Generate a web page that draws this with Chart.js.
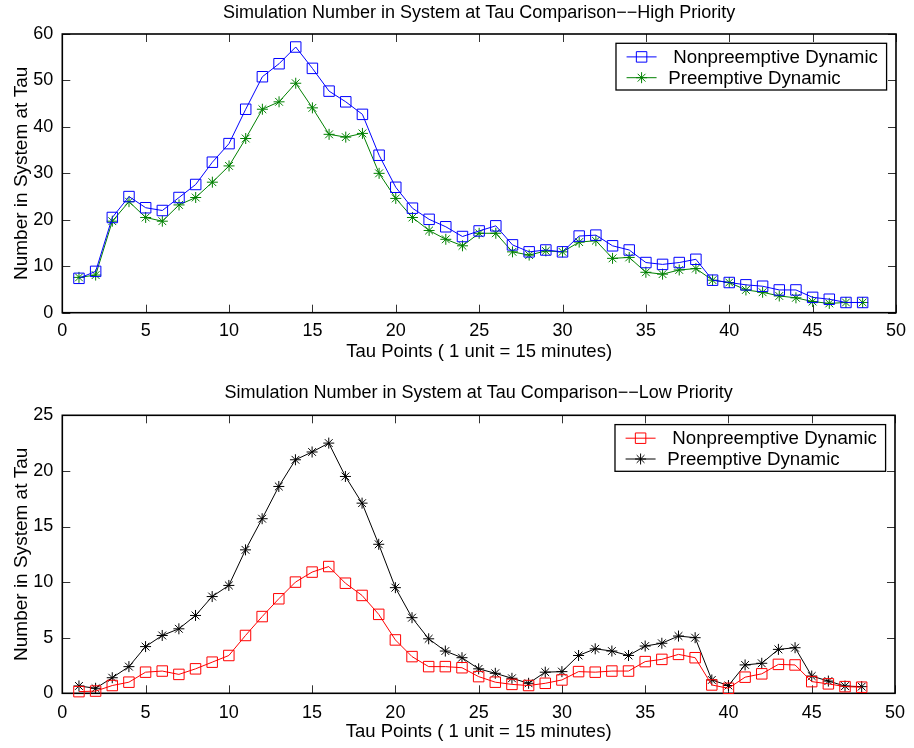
<!DOCTYPE html>
<html>
<head>
<meta charset="utf-8">
<script src="https://cdn.jsdelivr.net/npm/chart.js@4.4.1/dist/chart.umd.min.js"></script>
<style>
html, body { margin: 0; padding: 0; background: #ffffff; }
#wrap { position: relative; width: 914px; height: 748px; background: #ffffff; }
#wrap canvas { position: absolute; left: 0; }
</style>
</head>
<body>
<div id="wrap">
  <canvas id="chartHigh" width="914" height="374" style="top:0px"></canvas>
  <canvas id="chartLow" width="914" height="374" style="top:374px"></canvas>
</div>
<script>
// ---------------- DATA ----------------
const tauPoints = [1, 2, 3, 4, 5, 6, 7, 8, 9, 10, 11, 12, 13, 14, 15, 16, 17, 18, 19, 20, 21, 22, 23, 24,
                   25, 26, 27, 28, 29, 30, 31, 32, 33, 34, 35, 36, 37, 38, 39, 40, 41, 42, 43, 44, 45, 46, 47, 48];

const seriesLabels = ['Nonpreemptive Dynamic', 'Preemptive Dynamic'];

const highNonpreemptive = [7.4, 8.9, 20.5, 25.0, 22.6, 22.0, 24.8, 27.6, 32.4, 36.4, 43.8, 50.8,
                           53.6, 57.2, 52.6, 47.7, 45.4, 42.7, 33.9, 27.0, 22.5, 20.1, 18.5, 16.4,
                           17.6, 18.7, 14.6, 13.1, 13.5, 13.1, 16.5, 16.7, 14.4, 13.5, 10.8, 10.4,
                           10.8, 11.5, 7.0, 6.5, 6.0, 5.7, 4.9, 4.9, 3.3, 2.9, 2.2, 2.2];
const highPreemptive = [7.6, 8.1, 19.7, 23.9, 20.5, 19.7, 23.2, 24.8, 28.1, 31.6, 37.5, 43.8,
                        45.4, 49.4, 44.1, 38.4, 37.8, 38.6, 30.0, 24.6, 20.5, 17.7, 15.8, 14.4,
                        17.1, 17.1, 13.1, 12.4, 13.3, 13.1, 15.2, 15.5, 11.7, 11.9, 8.7, 8.3,
                        9.2, 9.5, 7.0, 6.5, 4.9, 4.4, 3.6, 3.2, 2.4, 2.0, 2.2, 2.2];

const lowNonpreemptive = [0.15, 0.2, 0.7, 1.0, 1.9, 2.0, 1.7, 2.2, 2.8, 3.4, 5.2, 6.9,
                          8.5, 10.0, 10.9, 11.4, 9.9, 8.8, 7.1, 4.8, 3.3, 2.4, 2.4, 2.3,
                          1.5, 1.0, 0.8, 0.7, 0.9, 1.2, 1.95, 1.9, 2.0, 2.0, 2.85, 3.05,
                          3.5, 3.2, 0.75, 0.45, 1.45, 1.75, 2.6, 2.55, 1.05, 0.85, 0.6, 0.55];
const lowPreemptive = [0.66, 0.45, 1.4, 2.4, 4.2, 5.2, 5.8, 7.0, 8.7, 9.7, 12.9, 15.7,
                       18.6, 21.0, 21.7, 22.5, 19.5, 17.1, 13.4, 9.5, 6.8, 4.9, 3.8, 3.2,
                       2.2, 1.8, 1.35, 0.9, 1.9, 1.95, 3.4, 4.0, 3.8, 3.4, 4.25, 4.5,
                       5.15, 5.0, 1.2, 0.7, 2.55, 2.7, 3.95, 4.1, 1.55, 1.1, 0.65, 0.6];

const xTickStep = 5;
const xRange = [0, 50];
const highYRange = [0, 60];
const highYStep = 10;
const lowYRange = [0, 25];
const lowYStep = 5;

const highTitle = 'Simulation Number in System at Tau Comparison\u2212\u2212High Priority';
const lowTitle = 'Simulation Number in System at Tau Comparison\u2212\u2212Low Priority';
const xAxisTitle = 'Tau Points ( 1 unit = 15 minutes)';
const yAxisTitle = 'Number in System at Tau';

// ---------------- STYLE / LAYOUT ----------------
const FONT = "'Liberation Sans', Arial, Helvetica, sans-serif";

function drawMarker(ctx, style, radius, x, y, color) {
  ctx.save();
  ctx.strokeStyle = color;
  ctx.fillStyle = 'rgba(0,0,0,0)';
  ctx.lineWidth = 1;
  if (Chart.helpers && Chart.helpers.drawPoint) {
    Chart.helpers.drawPoint(ctx, { pointStyle: style, radius: radius, rotation: 0, borderWidth: 1 }, x, y);
  }
  ctx.restore();
}

const boxTicksPlugin = {
  id: 'boxTicks',
  beforeDatasetsDraw(chart) {
    const { ctx, chartArea: a, scales } = chart;
    const xs = scales.x, ys = scales.y;
    const L = 8;
    ctx.save();
    ctx.strokeStyle = '#333333';
    ctx.lineWidth = 1;
    ctx.beginPath();
    xs.ticks.forEach(t => {
      const px = Math.round(xs.getPixelForValue(t.value)) + 0.5;
      ctx.moveTo(px, a.bottom); ctx.lineTo(px, a.bottom - L);
      ctx.moveTo(px, a.top); ctx.lineTo(px, a.top + L);
    });
    ys.ticks.forEach(t => {
      const py = Math.round(ys.getPixelForValue(t.value)) + 0.5;
      ctx.moveTo(a.left, py); ctx.lineTo(a.left + L, py);
      ctx.moveTo(a.right, py); ctx.lineTo(a.right - L, py);
    });
    ctx.stroke();
    ctx.strokeStyle = '#000000';
    ctx.lineWidth = 1.6;
    ctx.strokeRect(a.left, a.top, a.right - a.left, a.bottom - a.top);
    ctx.restore();
  }
};

const boxLegendPlugin = {
  id: 'boxLegend',
  afterDraw(chart) {
    const { ctx, chartArea: a } = chart;
    const left = a.right - 280;
    const top = a.top + 9.3;
    const w = 270.6, h = 46.7;
    ctx.save();
    ctx.fillStyle = '#ffffff';
    ctx.fillRect(left, top, w, h);
    ctx.strokeStyle = '#000000';
    ctx.lineWidth = 1.3;
    ctx.strokeRect(left, top, w, h);
    const rows = [13.6, 34.4];
    const textX = [57.3, 52.3];
    chart.data.datasets.forEach((ds, i) => {
      const yy = top + rows[i];
      ctx.strokeStyle = ds.borderColor;
      ctx.lineWidth = 1;
      ctx.beginPath();
      ctx.moveTo(left + 10.6, yy);
      ctx.lineTo(left + 40.6, yy);
      ctx.stroke();
      drawMarker(ctx, ds.pointStyle, ds.pointRadius, left + 25.6, yy, ds.borderColor);
      ctx.fillStyle = '#000000';
      ctx.font = '18.7px ' + FONT;
      ctx.textAlign = 'left';
      ctx.textBaseline = 'middle';
      ctx.fillText(ds.label, left + textX[i], yy + 1);
    });
    ctx.restore();
  }
};

function makeChart(id, cfg) {
  const datasets = cfg.series.map(s => ({
    label: s.label,
    data: tauPoints.map((t, i) => ({ x: t, y: s.values[i] })),
    borderColor: s.color,
    backgroundColor: 'rgba(0,0,0,0)',
    borderWidth: 1,
    tension: 0,
    fill: false,
    pointStyle: s.style,
    pointRadius: s.radius,
    pointBorderWidth: 1,
    pointBorderColor: s.color,
    pointBackgroundColor: 'rgba(0,0,0,0)',
    clip: false
  }));
  return new Chart(document.getElementById(id), {
    type: 'line',
    data: { datasets },
    options: {
      responsive: false,
      animation: false,
      devicePixelRatio: 1,
      events: [],
      layout: { padding: { left: 0, right: 16.3, top: 0, bottom: 0 } },
      plugins: {
        legend: { display: false },
        tooltip: { enabled: false },
        title: {
          display: true,
          text: cfg.title,
          color: '#000000',
          fullSize: false,
          font: { family: FONT, size: 18, weight: 'normal' },
          padding: { top: cfg.titleTop, bottom: cfg.titleBottom }
        }
      },
      scales: {
        x: {
          type: 'linear',
          min: xRange[0], max: xRange[1],
          ticks: { stepSize: xTickStep, color: '#000000', font: { family: FONT, size: 18 },
                   padding: cfg.xTickPad, maxRotation: 0, autoSkip: false },
          grid: { display: true, drawOnChartArea: false, drawTicks: false },
          border: { display: false },
          title: { display: true, text: xAxisTitle, color: '#000000',
                   font: { family: FONT, size: 18.5 }, padding: cfg.xTitlePad },
          afterFit: s => { s.height = cfg.xHeight; }
        },
        y: {
          type: 'linear',
          min: cfg.yRange[0], max: cfg.yRange[1],
          ticks: { stepSize: cfg.yStep, color: '#000000', font: { family: FONT, size: 18 }, padding: 9 },
          grid: { display: true, drawOnChartArea: false, drawTicks: false },
          border: { display: false },
          title: { display: true, text: yAxisTitle, color: '#000000',
                   font: { family: FONT, size: 19 }, padding: 10 },
          afterFit: s => { s.width = 62.3; }
        }
      }
    },
    plugins: [boxTicksPlugin, boxLegendPlugin]
  });
}

makeChart('chartHigh', {
  title: highTitle,
  titleTop: 2.5, titleBottom: 9.9,
  xTickPad: 8, xTitlePad: 11, xHeight: 61.3,
  yRange: highYRange, yStep: highYStep,
  series: [
    { label: seriesLabels[0], values: highNonpreemptive, color: '#0000ff', style: 'rect', radius: 7.4 },
    { label: seriesLabels[1], values: highPreemptive, color: '#008000', style: 'star', radius: 5.5 }
  ]
});

makeChart('chartLow', {
  title: lowTitle,
  titleTop: 7.8, titleBottom: 11.9,
  xTickPad: 9, xTitlePad: 4.5, xHeight: 54.7,
  yRange: lowYRange, yStep: lowYStep,
  series: [
    { label: seriesLabels[0], values: lowNonpreemptive, color: '#ff0000', style: 'rect', radius: 7.4 },
    { label: seriesLabels[1], values: lowPreemptive, color: '#000000', style: 'star', radius: 5.5 }
  ]
});
</script>
</body>
</html>
